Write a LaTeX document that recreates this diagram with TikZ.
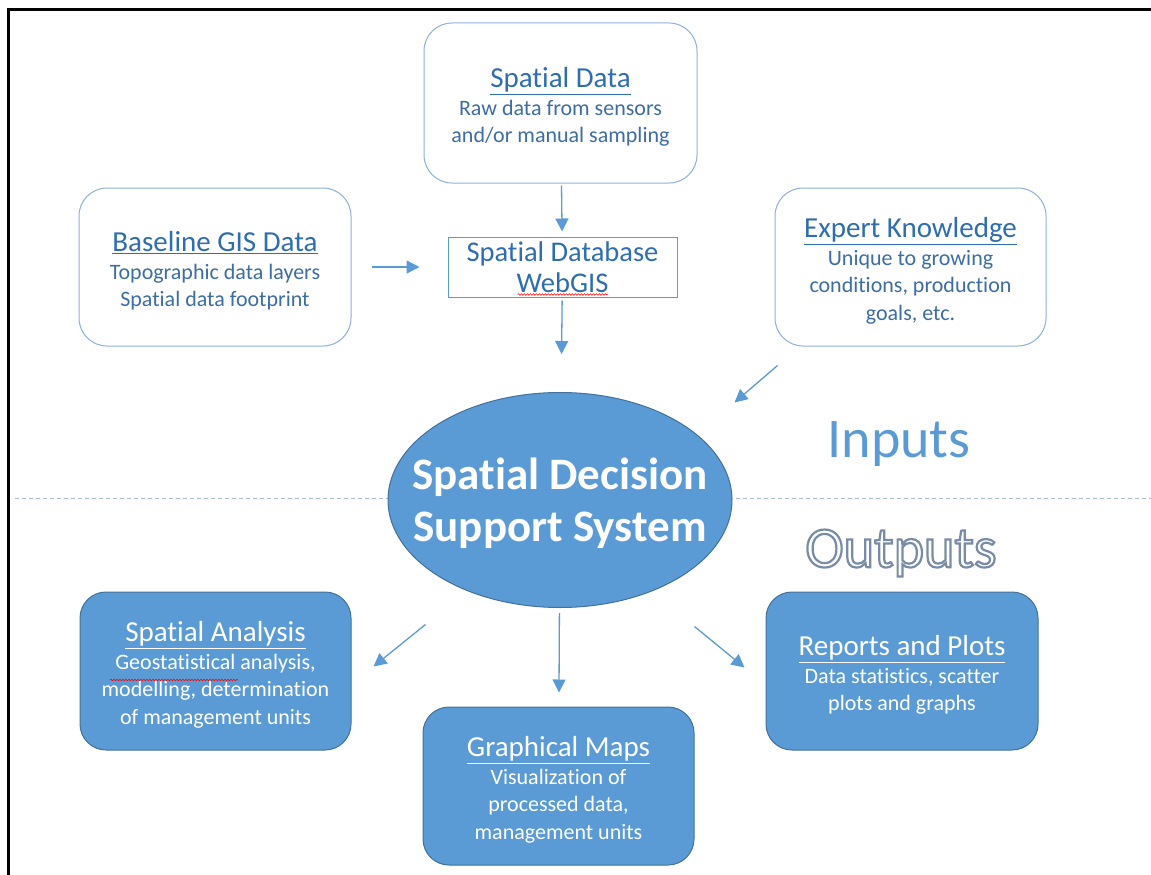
\documentclass[tikz,border=0pt]{standalone}
\usepackage{fontspec}
\setmainfont{Carlito}[RawFeature={-liga;-dlig;-clig}]
\usetikzlibrary{arrows.meta,shapes.geometric,decorations.pathmorphing,calc}

\definecolor{sysblue}{HTML}{5B9BD5}
\definecolor{sysedge}{HTML}{41719C}
\definecolor{inedge}{HTML}{8EB0DA}
\definecolor{headblue}{HTML}{2E6DB0}
\definecolor{bodyblue}{HTML}{3D6DA5}
\definecolor{dashgray}{HTML}{A9BCD0}

\newcommand{\hd}[1]{{\fontsize{29}{30}\selectfont\underline{#1}}}
% white letters with a blue-grey outline (PDF text render mode 2)
\newcommand{\outlined}[1]{%
  \special{pdf:code 2 Tr 2.2 w 0.47 0.55 0.66 RG}#1\special{pdf:code 0 Tr 0.4 w}}

\tikzset{
  inbox/.style={draw=inedge, line width=1pt, fill=white, rounded corners=28pt,
    inner sep=0pt, minimum width=272pt, minimum height=158pt},
  outbox/.style={draw=sysedge, line width=1pt, fill=sysblue, rounded corners=26pt,
    inner sep=0pt, minimum width=272pt, minimum height=158pt},
  intext/.style={inner sep=0pt, align=center, text=bodyblue,
    font=\fontsize{22}{27.5}\selectfont},
  outtext/.style={inner sep=0pt, align=center, text=white,
    font=\fontsize{22}{27.5}\selectfont},
  flow/.style={draw=sysblue, line width=1.3pt,
    -{Triangle[length=13pt,width=13pt]}},
  spell/.style={draw=red, line width=0.6pt, decorate,
    decoration={snake, amplitude=0.8pt, segment length=3pt}},
}

\begin{document}
\begin{tikzpicture}[x=1pt,y=-1pt]
\useasboundingbox (0,0) rectangle (1151,875);

% page frame (top and left edges)
\draw[line width=3pt, black] (8.5,875) -- (8.5,10) -- (1151,10);

% separator between inputs and outputs
\draw[dashgray, line width=1pt, dash pattern=on 4pt off 3pt] (15,498) -- (1151,498);

% input sources
\node[inbox, minimum width=273pt, minimum height=160pt] (spdata) at (560.5,103) {};
\node[intext] (spdatatxt) at ($(spdata.center)+(0,4)$)
  {\textcolor{headblue}{\hd{Spatial Data}}\\Raw data from sensors\\and/or manual sampling};
\node[inbox] (baseline) at (215,267) {};
\node[intext] (baselinetxt) at ($(baseline.center)+(0,4)$)
  {\textcolor{headblue}{\hd{Baseline GIS Data}}\\Topographic data layers\\Spatial data footprint};
\node[inbox, minimum width=271pt] (expert) at (910.5,267) {};
\node[intext] (experttxt) at ($(expert.center)+(0,4)$)
  {\textcolor{headblue}{\hd{Expert Knowledge}}\\Unique to growing\\conditions, production\\goals, etc.};
\node[draw=sysblue, line width=1pt, fill=white, minimum width=229pt, minimum height=60pt,
  inner sep=0pt, align=center, text=headblue, font=\fontsize{28.5}{31}\selectfont]
  (db) at (562.5,267) {Spatial Database\\WebGIS};

% central system: the ellipse and its title
\node[ellipse, draw=sysedge, line width=1pt, fill=sysblue, minimum width=344pt,
  minimum height=215pt, inner sep=0pt] (sdss) at (560,500) {};
\node[align=center, text=white, inner sep=0pt,
  font=\fontsize{45}{52}\selectfont\bfseries] (sdsstitle) at ($(sdss.center)+(0,3)$)
  {Spatial Decision\\Support System};

% outputs
\node[outbox, minimum width=271pt] (analysis) at (215.5,671) {};
\node[outtext] (analysistxt) at ($(analysis.center)+(0,4)$)
  {\hd{Spatial Analysis}\\Geostatistical analysis,\\modelling, determination\\of management units};
\node[outbox, minimum width=271pt] (maps) at (558.5,786) {};
\node[outtext] (mapstxt) at ($(maps.center)+(0,4)$)
  {\hd{Graphical Maps}\\Visualization of\\processed data,\\management units};
\node[outbox] (reports) at (902,671) {};
\node[outtext] (reportstxt) at ($(reports.center)+(0,4)$)
  {\hd{Reports and Plots}\\Data statistics, scatter\\plots and graphs};

% spelling marks
\draw[spell] ($(db.south)+(-45,-3)$) -- ($(db.south)+(45,-3)$);
\draw[spell] (110,680) -- (238,680);

% connectors
\draw[flow, shorten <=2pt, shorten >=5pt] (spdata) -- (db);
\draw[flow, shorten <=20pt, shorten >=28pt] (baseline) -- (db);
\draw[flow, shorten <=3pt, shorten >=38pt] (db) -- (sdss);
\draw[flow] ($(expert.south west)+(3,19)$) -- ($(expert.south west)+(-40,56)$);
\draw[flow] ($(analysis.north east)+(74,33)$) -- ($(analysis.north east)+(22,75)$);
\draw[flow, shorten <=5pt, shorten >=14pt] (sdss) -- (maps);
\draw[flow] ($(reports.north west)+(-71,35)$) -- ($(reports.north west)+(-21,76)$);

% section labels
\node[text=sysblue, font=\fontsize{56}{60}\selectfont] (inputs) at (899,444) {Inputs};
\node[text=white, font=\fontsize{58}{60}\selectfont] (outputs) at (901,553)
  {\outlined{Outputs}};
\end{tikzpicture}
\end{document}
